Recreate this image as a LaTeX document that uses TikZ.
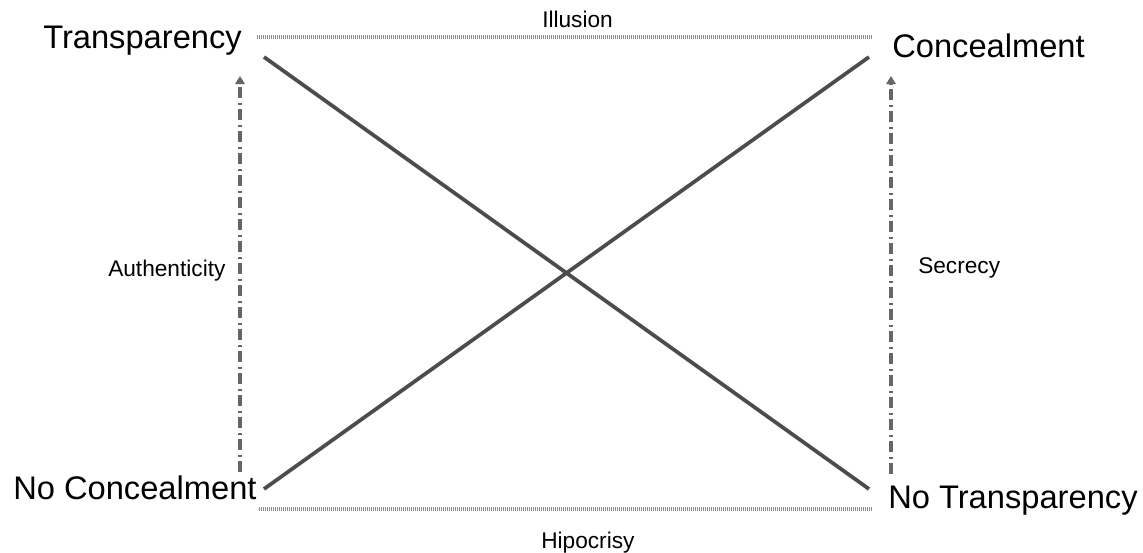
\documentclass[tikz,border=0pt]{standalone}
\usepackage{fontspec}
\setmainfont{Liberation Sans}
\usepackage{tikz}
\usetikzlibrary{arrows.meta, positioning}

\begin{document}
\begin{tikzpicture}[
    x=0.75pt, y=-0.75pt,
    corner/.style={inner sep=0pt, anchor=base west,
                   font=\fontsize{24.5}{28}\selectfont},
    relname/.style={inner sep=0pt, anchor=base west,
                    font=\fontsize{17}{20}\selectfont},
    contrary/.style={draw=black!45, line width=3pt,
                     dash pattern=on 1pt off 0.5pt},
    diag/.style={draw=black!70, line width=2.8pt},
    implies/.style={-{Triangle[width=7pt,length=6pt]}, draw=black!60,
                    line width=2.6pt,
                    dash pattern=on 8pt off 3.5pt on 1.5pt off 3.5pt}
  ]
  \useasboundingbox (0,0) rectangle (1143,553);
  % corners of the square
  \node[corner] (transp)   at (43,48)  {Transparency};
  \node[corner] (conceal)  at (892,57) {Concealment};
  \node[corner] (noconc)   at (13,499) {No Concealment};
  \node[corner] (notransp) at (888,508) {No Transparency};
  % relations
  \node[relname] (illusion) at (542,27)  {Illusion};
  \node[relname] (hipo)     at (541,548) {Hipocrisy};
  \node[relname] (auth)     at (108,276) {Authenticity};
  \node[relname] (secrecy)  at (918,273) {Secrecy};
  % line ends
  \coordinate (tl) at (257,37);
  \coordinate (tr) at (872,37);
  \coordinate (bl) at (259,509);
  \coordinate (br) at (872,509);
  \coordinate (d1a) at (264,57);
  \coordinate (d1b) at (869,489);
  \coordinate (d2a) at (264,489);
  \coordinate (d2b) at (869,57);
  \coordinate (la) at (240,472);
  \coordinate (lb) at (240,76);
  \coordinate (ra) at (891,474);
  \coordinate (rb) at (891,76);
  \draw[contrary] (tl) -- (tr);
  \draw[contrary] (bl) -- (br);
  \draw[diag] (d1a) -- (d1b);
  \draw[diag] (d2a) -- (d2b);
  \draw[implies] (la) -- (lb);
  \draw[implies] (ra) -- (rb);
\end{tikzpicture}
\end{document}
